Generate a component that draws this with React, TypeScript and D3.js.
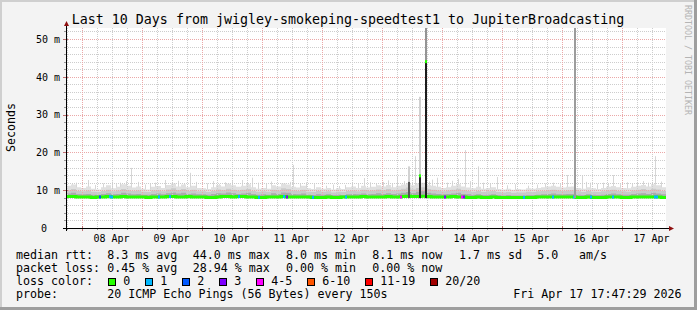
import React from 'react';
import * as d3 from 'd3';

// ---------- data ----------
const startMs = Date.UTC(2026, 3, 7, 17, 47, 29);
const endMs = Date.UTC(2026, 3, 17, 17, 47, 29);
const bucketHours = 2;

// median rtt per 2h bucket (ms)
const medianMs = [
  8.3, 8.3, 8.2,
  8.2, 8.2, 8.1, 8.2, 8.2, 8.3, 8.2, 8.2, 8.3, 8.2, 8.2, 8.2,
  8.2, 8.1, 8.2, 8.2, 8.2, 8.3, 8.3, 8.2, 8.2, 8.3, 8.2, 8.2,
  8.2, 8.1, 8.1, 8.2, 8.3, 8.3, 8.2, 8.3, 8.3, 8.2, 8.2, 8.1,
  8.1, 8.2, 8.2, 8.2, 8.3, 8.2, 8.2, 8.2, 8.2, 8.2, 8.1, 8.1,
  8.1, 8.2, 8.1, 8.1, 8.2, 8.2, 8.2, 8.2, 8.3, 8.2, 8.2, 8.2,
  8.2, 8.3, 8.2, 8.2, 8.3, 8.4, 8.3, 8.3, 8.4, 8.3, 8.2, 8.2,
  8.2, 8.2, 8.3, 8.2, 8.2, 8.1, 8.1, 8.2, 8.1, 8.1, 8.2, 8.1,
  8.1, 8.1, 8.1, 8.1, 8.1, 8.1, 8.1, 8.2, 8.2, 8.2, 8.2, 8.2,
  8.2, 8.2, 8.2, 8.1, 8.1, 8.2, 8.1, 8.1, 8.1, 8.2, 8.2, 8.2,
  8.1, 8.1, 8.2, 8.2, 8.2, 8.2, 8.2, 8.2, 8.1,
];
// inner (dark) smoke top
const p75Ms = [
  9.1, 9.3, 8.9,
  8.9, 9.0, 8.8, 8.8, 9.0, 9.2, 8.9, 9.0, 9.3, 9.1, 8.9, 9.0,
  8.8, 8.8, 9.0, 9.1, 8.9, 9.2, 9.4, 9.1, 9.3, 9.0, 9.1, 8.9,
  8.9, 8.8, 9.0, 9.2, 9.1, 9.4, 9.2, 9.0, 9.1, 9.3, 9.0, 8.8,
  8.9, 8.8, 9.2, 9.0, 9.4, 9.3, 9.0, 8.9, 9.1, 8.8, 8.7, 8.9,
  8.8, 8.9, 8.7, 8.8, 8.7, 8.9, 9.0, 8.9, 9.1, 8.9, 9.0, 9.2,
  9.0, 9.2, 9.0, 9.1, 9.3, 9.5, 9.2, 9.6, 9.7, 9.3, 9.1, 9.0,
  8.9, 9.0, 9.1, 9.3, 9.0, 8.9, 8.8, 8.9, 8.7, 8.8, 8.9, 8.7,
  8.6, 8.7, 8.6, 8.6, 8.6, 8.7, 8.7, 8.8, 8.9, 9.0, 9.1, 8.9,
  8.9, 9.0, 9.0, 8.8, 8.7, 8.9, 8.8, 8.7, 8.8, 9.0, 9.1, 8.9,
  8.8, 8.8, 9.0, 9.1, 9.2, 9.0, 9.3, 9.1, 8.9,
];
// middle smoke top
const p90Ms = [
  10.0, 10.3, 9.8,
  9.7, 9.9, 9.6, 9.5, 9.8, 10.1, 9.7, 9.9, 10.3, 10.0, 9.8, 9.9,
  9.6, 9.5, 9.9, 10.0, 9.7, 10.2, 10.5, 10.0, 10.3, 9.8, 10.1, 9.7,
  9.7, 9.5, 9.8, 10.2, 10.0, 10.4, 10.1, 9.9, 10.1, 10.3, 9.8, 9.6,
  9.7, 9.6, 10.1, 9.9, 10.5, 10.3, 9.9, 9.8, 10.1, 9.6, 9.5, 9.8,
  9.6, 9.7, 9.4, 9.6, 9.5, 9.8, 9.9, 9.7, 10.1, 9.8, 9.9, 10.2,
  10.0, 10.3, 9.9, 10.1, 10.4, 10.7, 10.2, 10.6, 10.8, 10.3, 10.1, 9.9,
  9.7, 9.9, 10.1, 10.4, 10.0, 9.8, 9.6, 9.8, 9.5, 9.7, 9.8, 9.5,
  9.4, 9.5, 9.3, 9.4, 9.4, 9.6, 9.5, 9.7, 9.8, 10.0, 10.1, 9.9,
  9.8, 9.9, 10.0, 9.7, 9.5, 9.8, 9.6, 9.5, 9.7, 9.9, 10.1, 9.8,
  9.7, 9.6, 9.9, 10.1, 10.3, 10.0, 10.4, 10.2, 9.8,
];
// outer (light) smoke top = max ping
const maxMs = [
  11.2, 11.5, 10.8,
  10.6, 11.0, 10.4, 10.2, 10.8, 11.3, 10.5, 10.9, 11.6, 11.2, 10.7, 11.0,
  10.4, 10.2, 10.9, 11.1, 10.6, 11.4, 11.8, 11.0, 11.5, 10.8, 11.2, 10.6,
  10.5, 10.3, 10.8, 11.4, 11.0, 11.7, 11.3, 10.9, 11.2, 11.6, 10.8, 10.4,
  10.6, 10.4, 11.3, 11.0, 11.8, 11.5, 10.9, 10.7, 11.2, 10.5, 10.3, 10.8,
  10.4, 10.6, 10.2, 10.5, 10.3, 10.8, 11.0, 10.6, 11.2, 10.7, 10.9, 11.3,
  11.0, 11.4, 10.8, 11.2, 11.5, 11.9, 11.3, 11.8, 12.0, 11.4, 11.2, 10.9,
  10.6, 10.8, 11.2, 11.6, 11.0, 10.7, 10.5, 10.9, 10.4, 10.6, 10.8, 10.3,
  10.2, 10.4, 10.1, 10.3, 10.2, 10.5, 10.4, 10.6, 10.8, 11.0, 11.2, 10.9,
  10.7, 10.9, 11.0, 10.6, 10.4, 10.8, 10.5, 10.3, 10.6, 10.9, 11.1, 10.8,
  10.6, 10.5, 10.9, 11.2, 11.4, 11.0, 11.6, 11.3, 10.8,
];

// thin single-sample max-ping spikes (hours after start, ms)
const spikeHours = [
  2.4, 4.0, 8.8, 11.6, 14.8, 18.4, 20.0, 21.6, 24.0, 26.0, 28.8, 31.6, 33.6, 35.6,
  39.6, 42.4, 44.8, 47.2, 49.6, 52.0, 56.4, 58.8, 61.2, 63.6, 66.4, 70.4, 72.4,
  74.4, 76.8, 80.0, 82.0, 89.6, 90.8, 93.6, 96.0, 99.2, 104.0, 106.8, 109.2,
  111.6, 114.4, 116.8, 119.2, 121.6, 124.0, 126.8, 128.8, 130.4, 132.4, 135.2,
  139.6, 145.2, 146.4, 148.4, 152.4, 154.4, 156.8, 159.6, 161.6, 164.8, 166.8,
  169.6, 172.4, 176.4, 179.6, 184.8, 188.4, 191.6, 194.8, 197.6, 200.4, 206.4,
  208.0, 209.6, 212.4, 214.8, 216.8, 218.8, 221.6, 224.4, 226.4, 228.4, 230.8,
  232.8, 235.6, 238.0,
];
const spikeTopMs = [
  11.6, 12.0, 12.7, 11.4, 11.8, 12.3, 11.6, 12.0, 12.4, 15.9, 12.2, 11.5, 11.8, 12.0,
  12.7, 11.9, 12.5, 11.7, 14.6, 12.2, 11.8, 12.4, 11.6, 12.1, 12.7, 12.7, 11.9,
  13.3, 12.0, 11.7, 12.3, 12.2, 16.7, 11.8, 12.1, 11.6, 11.2, 11.5, 11.1,
  11.4, 11.7, 11.9, 13.2, 12.1, 11.8, 12.2, 12.6, 11.9, 13.5, 12.4,
  19.0, 12.3, 12.8, 13.3, 12.0, 12.5, 13.0, 20.6, 12.4, 16.3, 12.0,
  11.7, 13.5, 11.3, 11.6, 11.2, 11.5, 11.8, 12.0, 11.9, 14.0, 14.0,
  12.2, 12.0, 11.7, 12.0, 11.8, 14.0, 11.6, 12.1, 11.9, 12.2, 12.4,
  12.0, 19.0, 12.3,
];

// large bursts (hours after start)
const burstHours = [137.0, 141.0, 143.6, 203.0];
const burstMedianMs = [8.2, 13.8, 44.0, 8.2];
const burstDarkTopMs = [12.2, 13.8, 44.0, 60];
const burstTopMs = [16.3, 34.7, 60, 60];

// loss events (hours after start, lost pings of 20)
const lossHours = [13.3, 17.0, 18.0, 36.8, 41.0, 68.8, 76.8, 86.8, 88.0, 98.3, 111.6,
  133.6, 151.2, 157.8, 158.8, 182.8, 194.3, 202.8, 209.6, 218.4, 235.0, 236.0];
const lossCounts = [2, 1, 1, 1, 1, 1, 1, 1, 3, 1, 1, 5, 3, 5, 3, 1, 1, 1, 1, 1, 1, 1];

const lossLabels = ['0', '1', '2', '3', '4-5', '6-10', '11-19', '20/20'];
const lossUpper = [0, 1, 2, 3, 5, 10, 19, 20];

const yTickValues = [0, 10, 20, 30, 40, 50];
const yTickLabels = ['0', '10 m', '20 m', '30 m', '40 m', '50 m'];

const legendRtt = ['8.3 ms avg', '44.0 ms max', '8.0 ms min', '8.1 ms now', '1.7 ms sd', '5.0', 'am/s'];
const legendLoss = ['0.45 % avg', '28.94 % max', '0.00 % min', '0.00 % now'];

// ---------- styles ----------
const lossColors = ['#26ff00', '#00b8ff', '#0059ff', '#7e00ff', '#ff00ff', '#ff5500', '#ff0000', '#a10000'];
const burstDarkShade = ['#555555', '#2a2a2a', '#1c1c1c', '#9c9c9c'];
const burstUpperShade = ['#d2d2d2', '#d0d0d0', '#949494', '#9c9c9c'];
const MONO = "'DejaVu Sans Mono', monospace";

const X0 = 66, X1 = 666, Y0 = 228, Y1 = 28;

export default function App() {
  const x = d3.scaleUtc().domain([new Date(startMs), new Date(endMs)]).range([X0, X1]);
  const y = d3.scaleLinear().domain([0, 52.9]).range([Y0, Y1]);
  const hx = (h: number) => x(new Date(startMs + h * 3600e3));

  const pts = medianMs.map((m, i) => ({
    t: new Date(startMs + i * bucketHours * 3600e3),
    med: m, p75: p75Ms[i], p90: p90Ms[i], max: maxMs[i],
  }));
  pts.push({ ...pts[pts.length - 1], t: new Date(endMs) });

  const area = (key: 'p75' | 'p90' | 'max') =>
    d3.area<any>().x(d => x(d.t)).y0(d => y(d.med)).y1(d => y(d[key])).curve(d3.curveStepAfter)(pts) || '';
  const medLine = d3.line<any>().x(d => x(d.t)).y(d => y(d.med)).curve(d3.curveStepAfter)(pts) || '';

  const medAt = (h: number) => medianMs[Math.min(medianMs.length - 1, Math.floor(h / bucketHours))];
  const lossColor = (c: number) => lossColors[lossUpper.findIndex(u => c <= u)];

  const minorH = d3.range(2, 53, 2).filter(v => v % 10 !== 0);
  const majorH = [10, 20, 30, 40, 50];
  const minorV = d3.utcHour.every(6)!.range(new Date(startMs), new Date(endMs)).filter(d => d.getUTCHours() !== 0);
  const majorV = d3.utcDay.range(new Date(startMs), new Date(endMs));
  const fmt = d3.utcFormat('%d %b');
  const r = (v: number) => Math.round(v) + 0.5;

  const rowY = [258.5, 271.8, 285.1, 298.4];
  const rttX = [107.3, 192.7, 286, 372.3, 459, 537.3, 579];

  let bx = 108.3;
  const boxes = lossLabels.map((lab, i) => {
    const item = { bx, lx: bx + 15, lab, col: lossColors[i] };
    bx = bx + 15 + lab.length * 7 + 15;
    return item;
  });

  const minorGrid = '#cdcdcd';
  const majorGrid = '#eba8a8';

  return (
    <svg width={697} height={310} style={{ position: 'absolute', left: 0, top: 0, display: 'block' }}
      fontFamily={MONO}>
      <defs>
        <clipPath id="plot"><rect x={X0} y={Y1} width={X1 - X0} height={Y0 - Y1} /></clipPath>
      </defs>
      <rect x={0} y={0} width={697} height={310} fill="#f3f3f3" />
      <rect x={0} y={0} width={697} height={2} fill="#cfcfcf" />
      <rect x={0} y={0} width={2} height={310} fill="#cfcfcf" />
      <rect x={0} y={307} width={697} height={3} fill="#9e9e9e" />
      <rect x={694} y={0} width={3} height={310} fill="#9e9e9e" />
      <rect x={X0} y={Y1} width={X1 - X0} height={Y0 - Y1} fill="#ffffff" />

      <g clipPath="url(#plot)">
        {spikeHours.map((h, i) => (
          <rect key={'s' + i} x={Math.round(hx(h))} width={1} y={y(spikeTopMs[i])}
            height={y(medAt(h)) - y(spikeTopMs[i])} fill="#d6d6d6" />
        ))}
        <path d={area('max')} fill="#e0e0e0" />
        <path d={area('p90')} fill="#cacaca" />
        <path d={area('p75')} fill="#ababab" />
      </g>

      {minorH.map(v => (
        <line key={'mh' + v} x1={X0} x2={X1} y1={r(y(v))} y2={r(y(v))} stroke={minorGrid} strokeDasharray="1,1" />
      ))}
      {minorV.map((d, i) => (
        <line key={'mv' + i} x1={r(x(d))} x2={r(x(d))} y1={Y1} y2={Y0} stroke={minorGrid} strokeDasharray="1,1" />
      ))}
      {majorH.map(v => (
        <line key={'Mh' + v} x1={X0} x2={X1} y1={r(y(v))} y2={r(y(v))} stroke={majorGrid} strokeDasharray="1,1" />
      ))}
      {majorV.map((d, i) => (
        <line key={'Mv' + i} x1={r(x(d))} x2={r(x(d))} y1={Y1} y2={Y0} stroke={majorGrid} strokeDasharray="1,1" />
      ))}

      <g clipPath="url(#plot)">
        <path d={medLine} fill="none" stroke={lossColors[0]} strokeWidth={3} />
        {lossHours.map((h, i) => (
          <rect key={'l' + i} x={Math.round(hx(h))} width={2} y={y(medAt(h)) - 1.5} height={3}
            fill={lossColor(lossCounts[i])} />
        ))}
        {burstHours.map((h, i) => {
          const bxp = Math.round(hx(h));
          const base = y(7.9);
          return (
            <g key={'b' + i}>
              <rect x={bxp} width={2} y={y(burstTopMs[i])} height={y(burstDarkTopMs[i]) - y(burstTopMs[i])}
                fill={burstUpperShade[i]} />
              <rect x={bxp} width={2} y={y(burstDarkTopMs[i])} height={base - y(burstDarkTopMs[i])}
                fill={burstDarkShade[i]} />
              {burstMedianMs[i] > 9 && (
                <rect x={bxp} width={2} y={y(burstMedianMs[i]) - 1.5} height={3} fill={lossColors[0]} />
              )}
            </g>
          );
        })}
      </g>

      {minorH.map(v => (
        <line key={'th' + v} x1={X0 - 2} x2={X0} y1={r(y(v))} y2={r(y(v))} stroke="#999" />
      ))}
      {majorH.map(v => (
        <line key={'tH' + v} x1={X0 - 3} x2={X0 + 2} y1={r(y(v))} y2={r(y(v))} stroke="#c07070" />
      ))}
      {minorV.map((d, i) => (
        <line key={'tv' + i} x1={r(x(d))} x2={r(x(d))} y1={Y0} y2={Y0 + 2} stroke="#999" />
      ))}
      {majorV.map((d, i) => (
        <line key={'tV' + i} x1={r(x(d))} x2={r(x(d))} y1={Y0 - 2} y2={Y0 + 3} stroke="#c07070" />
      ))}

      <line x1={X0 - 3} x2={X1 + 3} y1={Y0 + 0.5} y2={Y0 + 0.5} stroke="#000" />
      <line x1={X0 + 0.5} x2={X0 + 0.5} y1={Y0 + 3} y2={Y1 - 2} stroke="#000" />
      <path d={`M${X0 - 2},${Y1 - 2} L${X0 + 0.5},${Y1 - 7} L${X0 + 3},${Y1 - 2} Z`} fill="#8f1010" />
      <path d={`M${X1 + 3},${Y0 - 2} L${X1 + 8},${Y0 + 0.5} L${X1 + 3},${Y0 + 3} Z`} fill="#8f1010" />

      {yTickValues.map((v, i) => (
        <text key={'yl' + v} x={v === 0 ? 47 : 60} y={y(v) + 3.8} fontSize={10} textAnchor="end" fill="#000">
          {yTickLabels[i]}
        </text>
      ))}
      {majorV.map((d, i) => {
        const cx = x(new Date(+d + 12 * 3600e3));
        if (cx > X1) return null;
        return (
          <text key={'xl' + i} x={cx} y={241.5} fontSize={10} textAnchor="middle" fill="#000">{fmt(d)}</text>
        );
      })}

      <text x={348} y={24} fontSize={13.3} textAnchor="middle" fill="#000">
        Last 10 Days from jwigley-smokeping-speedtest1 to JupiterBroadcasting
      </text>
      <text transform="translate(15,127.5) rotate(-90)" fontSize={11.6} textAnchor="middle" fill="#000">Seconds</text>
      <text transform="translate(685,5) rotate(90)" fontSize={8.3} fill="#b4b4b4">RRDTOOL / TOBI OETIKER</text>

      <g fontSize={11.65} fill="#000">
        <text x={16} y={rowY[0]}>median rtt:</text>
        {legendRtt.map((s, i) => <text key={'r' + i} x={rttX[i]} y={rowY[0]}>{s}</text>)}
        <text x={16} y={rowY[1]}>packet loss:</text>
        {legendLoss.map((s, i) => <text key={'p' + i} x={rttX[i]} y={rowY[1]}>{s}</text>)}
        <text x={16} y={rowY[2]}>loss color:</text>
        {boxes.map((b, i) => (
          <g key={'lb' + i}>
            <rect x={Math.round(b.bx) + 0.5} y={278.5} width={7} height={7} fill={b.col} stroke="#000" />
            <text x={b.lx} y={rowY[2]}>{b.lab}</text>
          </g>
        ))}
        <text x={16} y={rowY[3]}>probe:</text>
        <text x={107.3} y={rowY[3]}>20 ICMP Echo Pings (56 Bytes) every 150s</text>
        <text x={513.3} y={rowY[3]}>Fri Apr 17 17:47:29 2026</text>
      </g>
    </svg>
  );
}
